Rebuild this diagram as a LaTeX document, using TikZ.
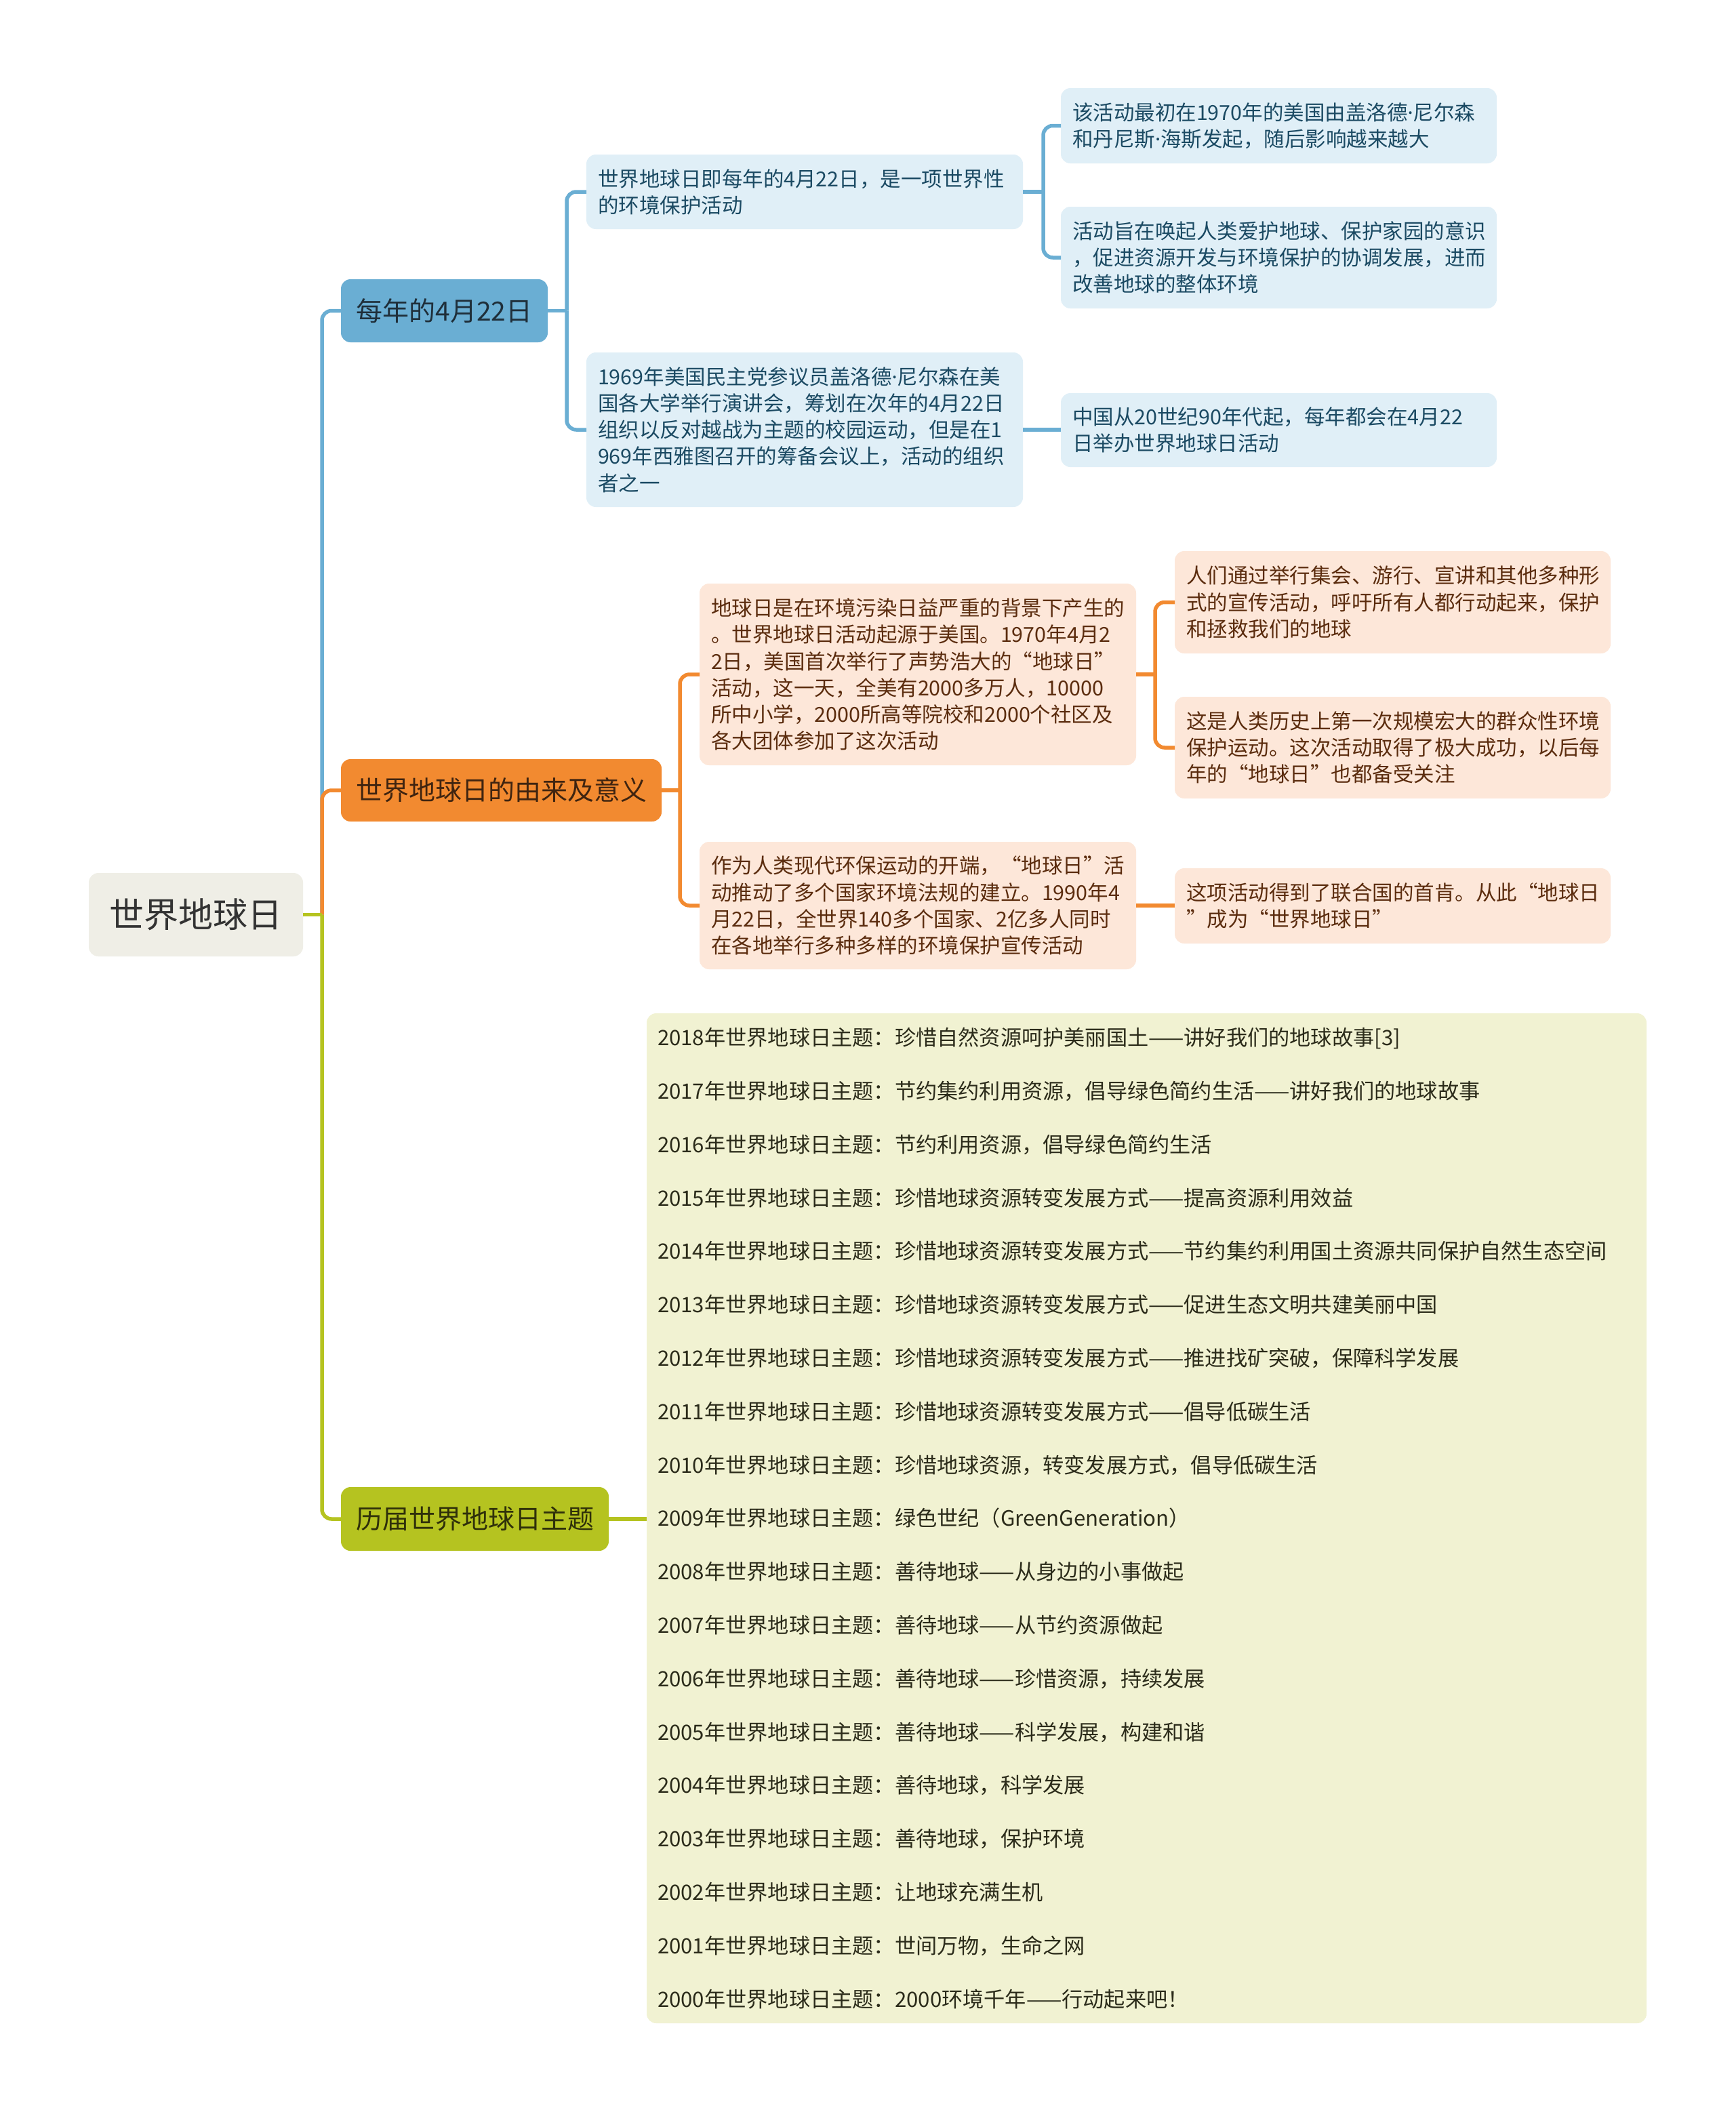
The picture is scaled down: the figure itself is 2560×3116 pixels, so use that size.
\documentclass[tikz,border=0pt]{standalone}
\usepackage{fontspec}
\setmainfont{Noto Sans CJK SC}
\newfontfamily\latinfont{Noto Sans}
\newcommand{\mdot}{{\latinfont ·}}
\definecolor{bluel}{HTML}{6AAED3}
\definecolor{orangel}{HTML}{F28A30}
\definecolor{greenl}{HTML}{B5C320}
\definecolor{rootfill}{HTML}{EFEEE6}
\definecolor{bluefill}{HTML}{E0EFF7}
\definecolor{orangefill}{HTML}{FDE7D9}
\definecolor{greenfill}{HTML}{F1F2D2}
\definecolor{roottext}{HTML}{333333}
\definecolor{bluebtext}{HTML}{1F2F3A}
\definecolor{bluetext}{HTML}{1B4A63}
\definecolor{orangebtext}{HTML}{3F2410}
\definecolor{orangetext}{HTML}{5B2C0E}
\definecolor{greenbtext}{HTML}{2F300A}
\definecolor{greentext}{HTML}{2B2B1A}
\tikzset{
  basebox/.style={rounded corners=14pt, anchor=north west, inner xsep=17pt, inner ysep=0pt, outer sep=0pt},
  smallbox/.style={basebox, align=left, font=\fontsize{30.5}{39.2}\selectfont},
  branchbox/.style={basebox, align=center, font=\fontsize{39}{46}\selectfont},
  bluechild/.style={smallbox, fill=bluefill, text=bluetext},
  orangechild/.style={smallbox, fill=orangefill, text=orangetext},
  conn/.style={line width=5.5pt, rounded corners=14pt},
  dims/.code 2 args={\pgfmathsetmacro\boxtw{#1-34}\pgfkeysalso{minimum width=#1pt, minimum height=#2pt, text width=\boxtw pt}},
}
\begin{document}
\begin{tikzpicture}[x=1pt,y=-1pt]
\useasboundingbox[fill=white] (0,0) rectangle (2560,3116);

% root
\node[basebox, fill=rootfill, text=roottext, align=center, font=\fontsize{51}{60}\selectfont,
  minimum width=316pt, minimum height=123pt] (root) at (131,1288) {世界地球日};

% branches
\node[branchbox, fill=bluel, text=bluebtext, minimum width=305pt, minimum height=93pt] (b1) at (503,412) {每年的4月22日};
\node[branchbox, fill=orangel, text=orangebtext, minimum width=473pt, minimum height=92pt] (b2) at (503,1120) {世界地球日的由来及意义};
\node[branchbox, fill=greenl, text=greenbtext, minimum width=395pt, minimum height=94pt] (b3) at (503,2194) {历届世界地球日主题};

% blue children
\node[bluechild, dims={644}{110}] (c11) at (865,228) {世界地球日即每年的4月22日，是一项世界性\\的环境保护活动};
\node[bluechild, dims={644}{228}] (c12) at (865,520) {1969年美国民主党参议员盖洛德\mdot 尼尔森在美\\国各大学举行演讲会，筹划在次年的4月22日\\组织以反对越战为主题的校园运动，但是在1\\969年西雅图召开的筹备会议上，活动的组织\\者之一};
\node[bluechild, dims={643}{111}] (d111) at (1565,130) {该活动最初在1970年的美国由盖洛德\mdot 尼尔森\\和丹尼斯\mdot 海斯发起，随后影响越来越大};
\node[bluechild, dims={643}{150}] (d112) at (1565,305) {活动旨在唤起人类爱护地球、保护家园的意识\\，促进资源开发与环境保护的协调发展，进而\\改善地球的整体环境};
\node[bluechild, dims={643}{109}] (d121) at (1565,580) {中国从20世纪90年代起，每年都会在4月22\\日举办世界地球日活动};

% orange children
\node[orangechild, dims={644}{268}] (c21) at (1032,861) {地球日是在环境污染日益严重的背景下产生的\\。世界地球日活动起源于美国。1970年4月2\\2日，美国首次举行了声势浩大的“地球日”\\活动，这一天，全美有2000多万人，10000\\所中小学，2000所高等院校和2000个社区及\\各大团体参加了这次活动};
\node[orangechild, dims={644}{188}] (c22) at (1032,1242) {作为人类现代环保运动的开端，“地球日”活\\动推动了多个国家环境法规的建立。1990年4\\月22日，全世界140多个国家、2亿多人同时\\在各地举行多种多样的环境保护宣传活动};
\node[orangechild, dims={643}{151}] (d211) at (1733,813) {人们通过举行集会、游行、宣讲和其他多种形\\式的宣传活动，呼吁所有人都行动起来，保护\\和拯救我们的地球};
\node[orangechild, dims={643}{150}] (d212) at (1733,1028) {这是人类历史上第一次规模宏大的群众性环境\\保护运动。这次活动取得了极大成功，以后每\\年的“地球日”也都备受关注};
\node[orangechild, dims={643}{111}] (d221) at (1733,1281) {这项活动得到了联合国的首肯。从此“地球日\\”成为“世界地球日”};

% green themes box
\node[basebox, fill=greenfill, text=greentext, align=left, inner xsep=16pt,
  font=\fontsize{31.2}{78.8}\selectfont, minimum width=1475pt, minimum height=1490pt, text width=1443pt] (g) at (954,1495) {%
2018年世界地球日主题：珍惜自然资源呵护美丽国土——讲好我们的地球故事[3]\\
2017年世界地球日主题：节约集约利用资源，倡导绿色简约生活——讲好我们的地球故事\\
2016年世界地球日主题：节约利用资源，倡导绿色简约生活\\
2015年世界地球日主题：珍惜地球资源转变发展方式——提高资源利用效益\\
2014年世界地球日主题：珍惜地球资源转变发展方式——节约集约利用国土资源共同保护自然生态空间\\
2013年世界地球日主题：珍惜地球资源转变发展方式——促进生态文明共建美丽中国\\
2012年世界地球日主题：珍惜地球资源转变发展方式——推进找矿突破，保障科学发展\\
2011年世界地球日主题：珍惜地球资源转变发展方式——倡导低碳生活\\
2010年世界地球日主题：珍惜地球资源，转变发展方式，倡导低碳生活\\
2009年世界地球日主题：绿色世纪（GreenGeneration）\\
2008年世界地球日主题：善待地球——从身边的小事做起\\
2007年世界地球日主题：善待地球——从节约资源做起\\
2006年世界地球日主题：善待地球——珍惜资源，持续发展\\
2005年世界地球日主题：善待地球——科学发展，构建和谐\\
2004年世界地球日主题：善待地球，科学发展\\
2003年世界地球日主题：善待地球，保护环境\\
2002年世界地球日主题：让地球充满生机\\
2001年世界地球日主题：世间万物，生命之网\\
2000年世界地球日主题：2000环境千年——行动起来吧！};

% junction coordinates
\coordinate (trunk) at (475,1349.5);
\coordinate (b1j) at (836,458.5);
\coordinate (c11j) at (1539,283);
\coordinate (b2j) at (1003,1166);
\coordinate (c21j) at (1704,995);

% root connectors
\draw[conn, bluel] (trunk) |- (b1.west);
\draw[conn, orangel] (trunk) |- (b2.west);
\draw[conn, greenl] (trunk) |- (b3.west);
\draw[conn, greenl] (root.east) -- (trunk);

% blue connectors
\draw[conn, bluel] (b1.east) -- (b1j);
\draw[conn, bluel] (b1j) |- (c11.west);
\draw[conn, bluel] (b1j) |- (c12.west);
\draw[conn, bluel] (c11.east) -- (c11j);
\draw[conn, bluel] (c11j) |- (d111.west);
\draw[conn, bluel] (c11j) |- (d112.west);
\draw[conn, bluel] (c12.east) -- (c12.east -| d121.west);

% orange connectors
\draw[conn, orangel] (b2.east) -- (b2j);
\draw[conn, orangel] (b2j) |- (c21.west);
\draw[conn, orangel] (b2j) |- (c22.west);
\draw[conn, orangel] (c21.east) -- (c21j);
\draw[conn, orangel] (c21j) |- (d211.west);
\draw[conn, orangel] (c21j) |- (d212.west);
\draw[conn, orangel] (c22.east) -- (c22.east -| d221.west);

% green connector
\draw[conn, greenl] (b3.east) -- (b3.east -| g.west);
\end{tikzpicture}
\end{document}
